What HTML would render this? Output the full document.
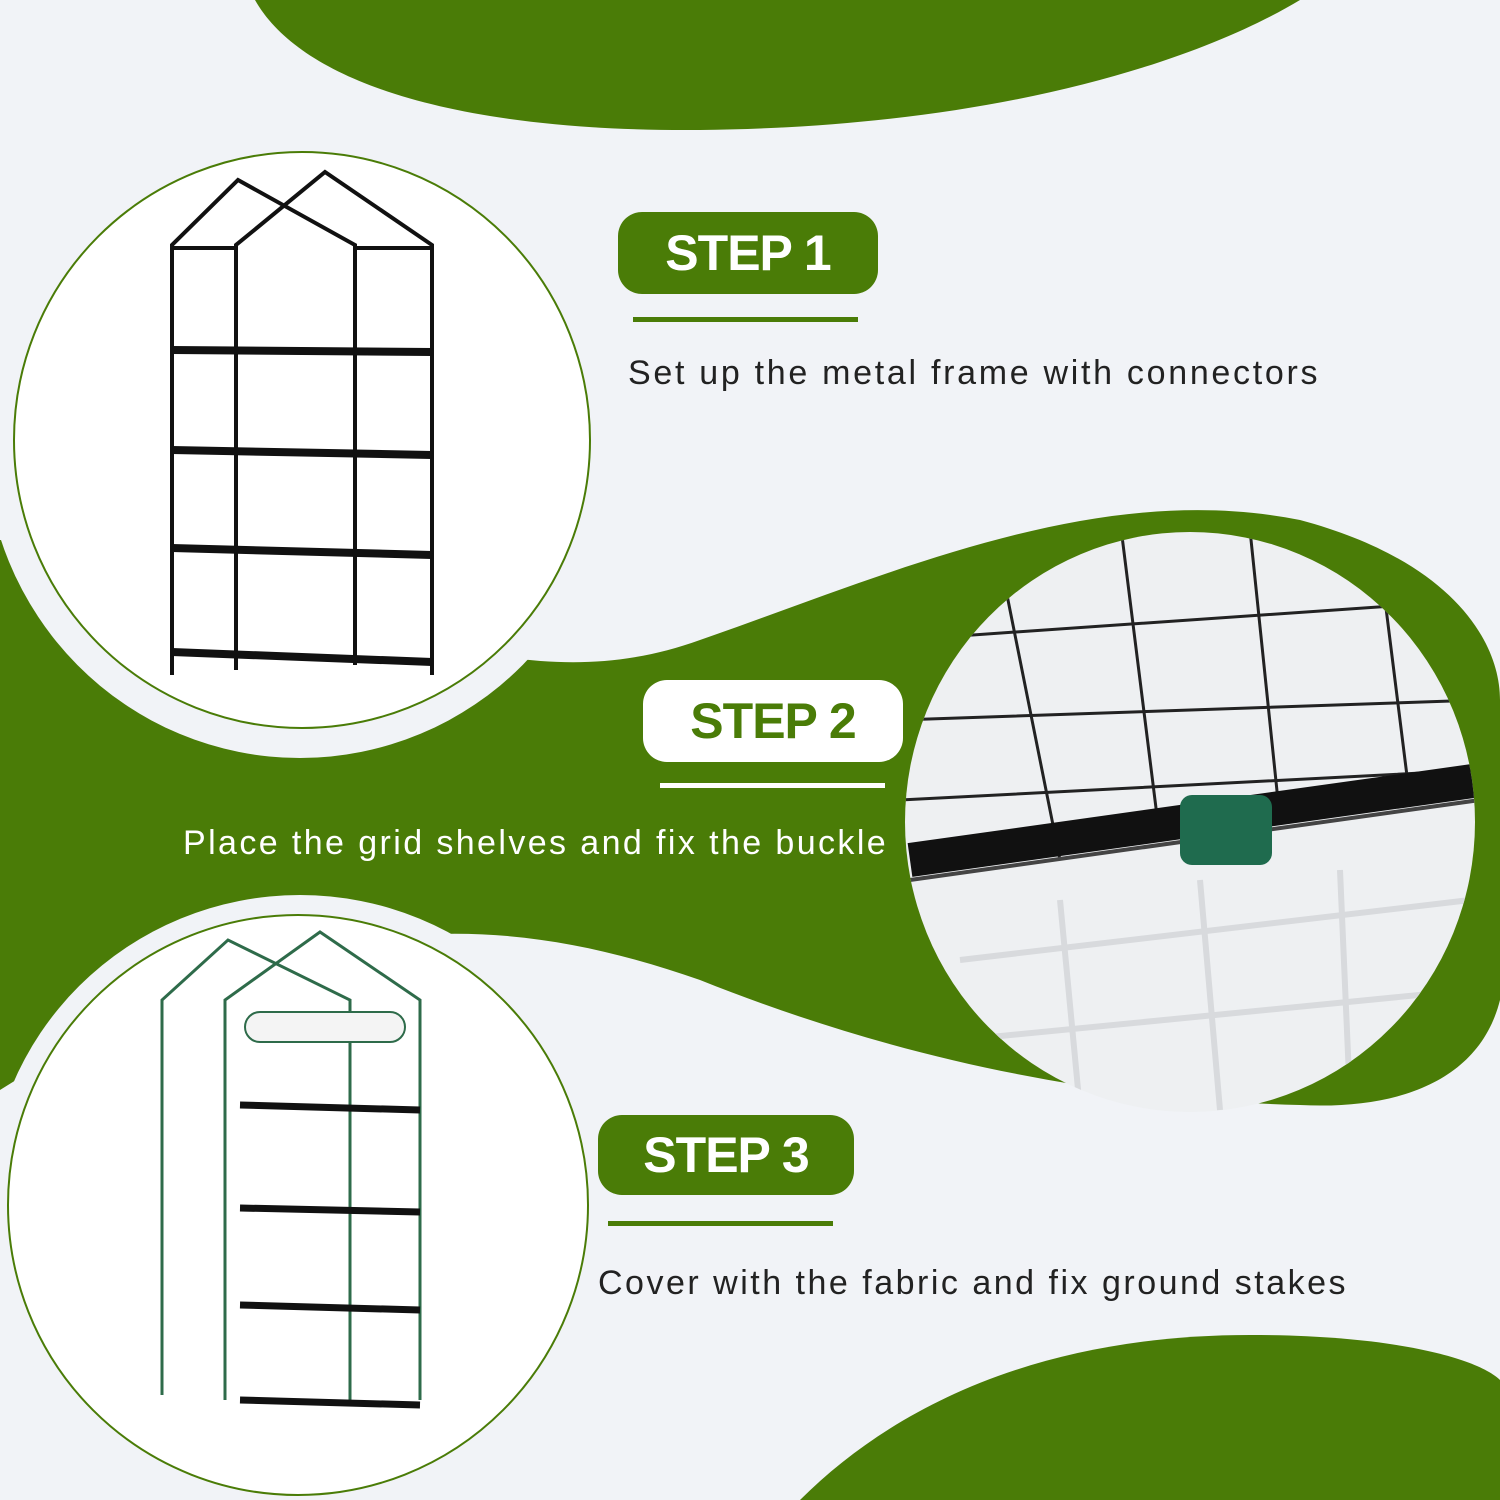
<!DOCTYPE html>
<html><head><meta charset="utf-8"><style>
html,body{margin:0;padding:0}
body{width:1500px;height:1500px;position:relative;overflow:hidden;background:#f1f3f7;font-family:"Liberation Sans",sans-serif}
.pill{position:absolute;border-radius:24px;font-weight:bold;font-size:50px;text-align:center;letter-spacing:-1px}
.ul{position:absolute;height:5px}
.t{position:absolute;font-size:34px;white-space:nowrap}
</style></head><body>
<svg width="1500" height="1500" style="position:absolute;left:0;top:0">
<path d="M255,0 C300,80 450,132 700,130 C1000,127 1200,60 1300,0 Z" fill="#4a7c07"/>
<path d="M800,1500 C900,1400 1050,1335 1250,1335 C1400,1335 1480,1360 1500,1380 L1500,1500 Z" fill="#4a7c07"/>
<path d="M0,540 C300,560 480,720 700,640 C900,570 1100,480 1300,520 C1450,560 1500,640 1500,700 L1500,1000 C1480,1080 1400,1110 1300,1105 C1100,1100 900,1060 700,980 C500,910 300,900 0,1090 Z" fill="#4a7c07"/>
<ellipse cx="300" cy="440" rx="315" ry="318" fill="#f1f3f7"/>
<ellipse cx="300" cy="1205" rx="312" ry="310" fill="#f1f3f7"/>
<circle cx="302" cy="440" r="288" fill="#fff" stroke="#4a7c07" stroke-width="2"/>
<circle cx="298" cy="1205" r="290" fill="#fff" stroke="#4a7c07" stroke-width="2"/>
<ellipse cx="1190" cy="822" rx="285" ry="290" fill="#eef0f2"/>
<clipPath id="c2"><ellipse cx="1190" cy="822" rx="285" ry="290"/></clipPath>
<g clip-path="url(#c2)" stroke="#222" stroke-width="3" fill="none">
<path d="M900,640 L1480,600 M900,720 L1480,700 M900,800 L1480,770"/>
<path d="M1000,560 L1060,860 M1120,520 L1160,840 M1250,530 L1280,820 M1380,560 L1410,800"/>
<path d="M910,860 L1480,780" stroke="#111" stroke-width="34"/>
<path d="M910,880 L1480,800" stroke="#444" stroke-width="4"/>
<g stroke="#d8dadd" stroke-width="6"><path d="M960,960 L1470,900 M960,1040 L1470,990 M1060,900 L1080,1110 M1200,880 L1220,1110 M1340,870 L1350,1100"/></g>
</g>
<rect x="1180" y="795" width="92" height="70" rx="12" fill="#1f6b4e"/>
<g stroke="#111" stroke-width="4" fill="none">
<path d="M172,675 L172,245 L238,180 L355,245 L355,665 M236,670 L236,245 L325,172 L432,245 L432,675"/>
<path d="M172,248 L236,248 M355,248 L432,248"/>
</g>
<g stroke="#111" stroke-width="8"><path d="M172,350 L432,352 M172,450 L432,455 M172,548 L432,555 M172,652 L432,662"/></g>
<g stroke="#2e6b4a" stroke-width="3" fill="none">
<path d="M162,1395 L162,1000 L228,940 L350,1000 L350,1400 M225,1400 L225,1000 L320,932 L420,1000 L420,1400"/>
</g>
<g stroke="#111" stroke-width="7"><path d="M240,1105 L420,1110 M240,1208 L420,1212 M240,1305 L420,1310 M240,1400 L420,1405"/></g>
<rect x="245" y="1012" width="160" height="30" rx="15" fill="#f4f4f4" stroke="#2e6b4a" stroke-width="2"/>
</svg>
<div class="pill" style="left:618px;top:212px;width:260px;height:82px;line-height:82px;background:#4a7c07;color:#fff">STEP 1</div>
<div class="ul" style="left:633px;top:317px;width:225px;background:#4a7c07"></div>
<div class="t" style="left:628px;top:354px;color:#222;letter-spacing:2.7px">Set up the metal frame with connectors</div>
<div class="pill" style="left:643px;top:680px;width:260px;height:82px;line-height:82px;background:#fff;color:#4a7c07">STEP 2</div>
<div class="ul" style="left:660px;top:783px;width:225px;background:#fff"></div>
<div class="t" style="left:183px;top:824px;color:#fff;letter-spacing:2.4px">Place the grid shelves and fix the buckle</div>
<div class="pill" style="left:598px;top:1115px;width:256px;height:80px;line-height:80px;background:#4a7c07;color:#fff">STEP 3</div>
<div class="ul" style="left:608px;top:1221px;width:225px;background:#4a7c07"></div>
<div class="t" style="left:598px;top:1264px;color:#222;letter-spacing:2.5px">Cover with the fabric and fix ground stakes</div>
</body></html>
